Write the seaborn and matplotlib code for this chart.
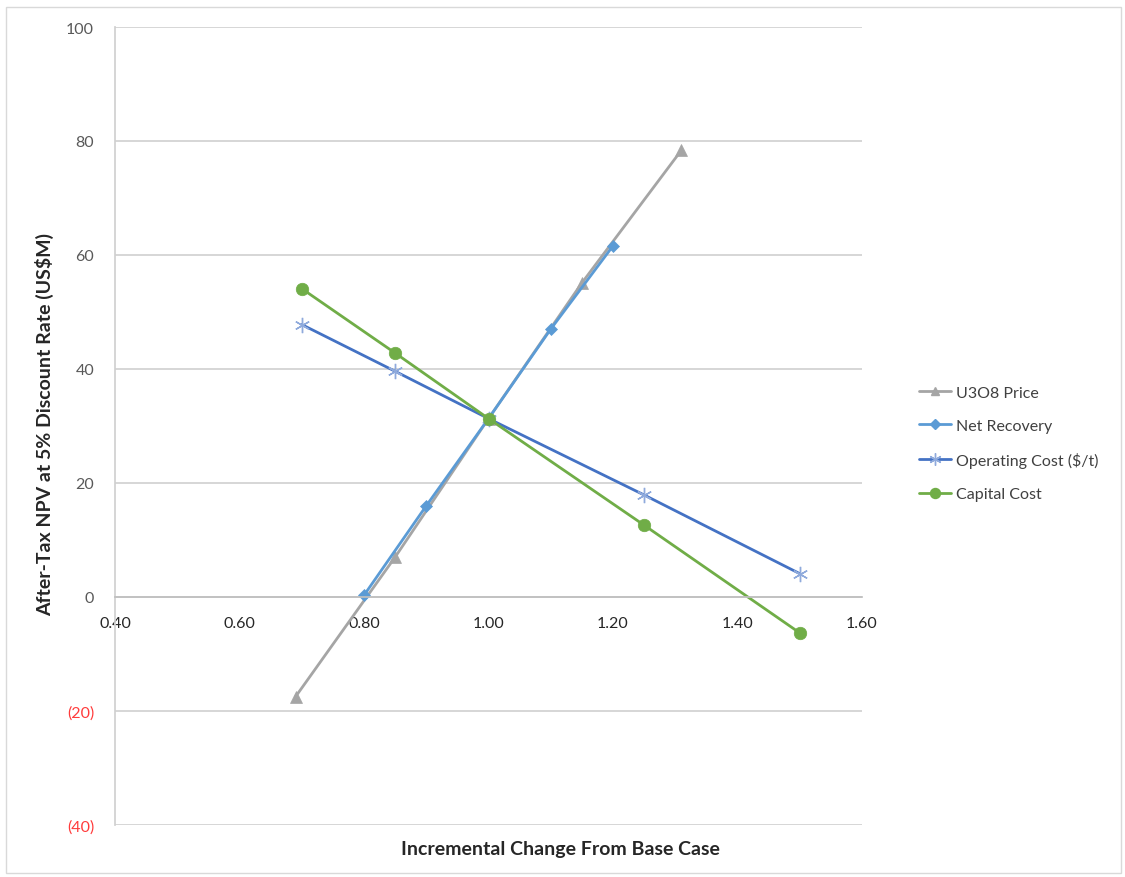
import pandas as pd
import numpy as np
import matplotlib.pyplot as plt
import seaborn as sns
from matplotlib.patches import Rectangle
from matplotlib.lines import Line2D

sns.set_theme(style="white")
plt.rcParams["font.family"] = ["Lato", "DejaVu Sans"]

# Data
price_x = [0.69, 0.85, 1.00, 1.15, 1.31]
price_y = [-17.5, 7.0, 31.3, 55.1, 78.4]

recovery_x = [0.80, 0.90, 1.00, 1.10, 1.20]
recovery_y = [0.3, 16.0, 31.3, 47.0, 61.6]

opcost_x = [0.70, 0.85, 1.00, 1.25, 1.50]
opcost_y = [47.8, 39.6, 31.3, 17.9, 4.1]

capcost_x = [0.70, 0.85, 1.00, 1.25, 1.50]
capcost_y = [54.1, 42.8, 31.3, 12.6, -6.3]

series_names = ["U3O8 Price", "Net Recovery", "Operating Cost ($/t)", "Capital Cost"]
x_ticks = [0.40, 0.60, 0.80, 1.00, 1.20, 1.40, 1.60]
y_ticks = [-40, -20, 0, 20, 40, 60, 80, 100]

frames = []
for name, xs, ys in zip(series_names,
                        [price_x, recovery_x, opcost_x, capcost_x],
                        [price_y, recovery_y, opcost_y, capcost_y]):
    frames.append(pd.DataFrame({"x": xs, "y": ys, "series": name}))
df = pd.concat(frames, ignore_index=True)

colors = {"U3O8 Price": "#A5A5A5", "Net Recovery": "#5B9BD5",
          "Operating Cost ($/t)": "#4472C4", "Capital Cost": "#70AD47"}
markers = {"U3O8 Price": "^", "Net Recovery": "D",
           "Operating Cost ($/t)": (6, 2, 0), "Capital Cost": "o"}
msizes = {"U3O8 Price": 8, "Net Recovery": 6,
          "Operating Cost ($/t)": 11, "Capital Cost": 9}
medge = {"U3O8 Price": "#A5A5A5", "Net Recovery": "#5B9BD5",
         "Operating Cost ($/t)": "#8FAADC", "Capital Cost": "#70AD47"}

fig = plt.figure(figsize=(11.25, 8.78), dpi=100)
ax = fig.add_axes([115 / 1125, 1 - 826 / 878, (862 - 115) / 1125, (826 - 28) / 878])

for name in series_names:
    sub = df[df["series"] == name]
    sns.lineplot(data=sub, x="x", y="y", ax=ax, color=colors[name],
                 marker=markers[name], markersize=msizes[name],
                 markeredgecolor=medge[name], markerfacecolor=colors[name],
                 markeredgewidth=1.0 if name == "Operating Cost ($/t)" else 0.5,
                 linewidth=2, sort=False, label=name, legend=False)

ax.set_xlim(0.40, 1.60)
ax.set_ylim(-40, 100)
ax.set_xticks(x_ticks)
ax.set_xticklabels([f"{t:.2f}" for t in x_ticks])
ax.set_yticks(y_ticks)
ax.set_yticklabels([f"({abs(t)})" if t < 0 else str(t) for t in y_ticks])
for lbl, t in zip(ax.get_yticklabels(), y_ticks):
    lbl.set_color("#FF3B3B" if t < 0 else "#595959")
for lbl in ax.get_xticklabels():
    lbl.set_color("#595959")

ax.grid(axis="y", color="#D0D0D0", linewidth=1.2)
ax.grid(axis="x", visible=False)
ax.set_axisbelow(True)
for s in ["top", "right"]:
    ax.spines[s].set_visible(False)
ax.spines["bottom"].set_position(("data", 0))
ax.spines["bottom"].set_color("#BFBFBF")
ax.spines["left"].set_color("#D0D0D0")
ax.tick_params(axis="x", length=0, pad=14, labelsize=11.5)
ax.tick_params(axis="y", length=0, pad=15, labelsize=11.5)

ax.set_xlabel("")
ax.set_ylabel("")
fig.text(560 / 1125, 1 - 850 / 878, "Incremental Change From Base Case",
         ha="center", va="center", fontsize=14, fontweight="bold", color="#262626")
fig.text(45 / 1125, 1 - 425 / 878, "After-Tax NPV at 5% Discount Rate (US$M)",
         ha="center", va="center", rotation=90, fontsize=14, fontweight="bold",
         color="#262626")

handles = [Line2D([0], [0], color=colors[n], marker=markers[n], linewidth=2,
                  markersize=msizes[n] * 0.8, markerfacecolor=colors[n],
                  markeredgecolor=medge[n]) for n in series_names]
fig.legend(handles, series_names, loc="upper left",
           bbox_to_anchor=(905 / 1125, 1 - 372 / 878), frameon=False,
           fontsize=11.5, labelspacing=1.2, handlelength=2.0, handletextpad=0.3,
           labelcolor="#404040")

fig.add_artist(Rectangle((6 / 1125, 4 / 878), 1115 / 1125, 866 / 878,
                         transform=fig.transFigure, fill=False,
                         edgecolor="#D9D9D9", linewidth=1))

plt.savefig("out.png", dpi=100)
